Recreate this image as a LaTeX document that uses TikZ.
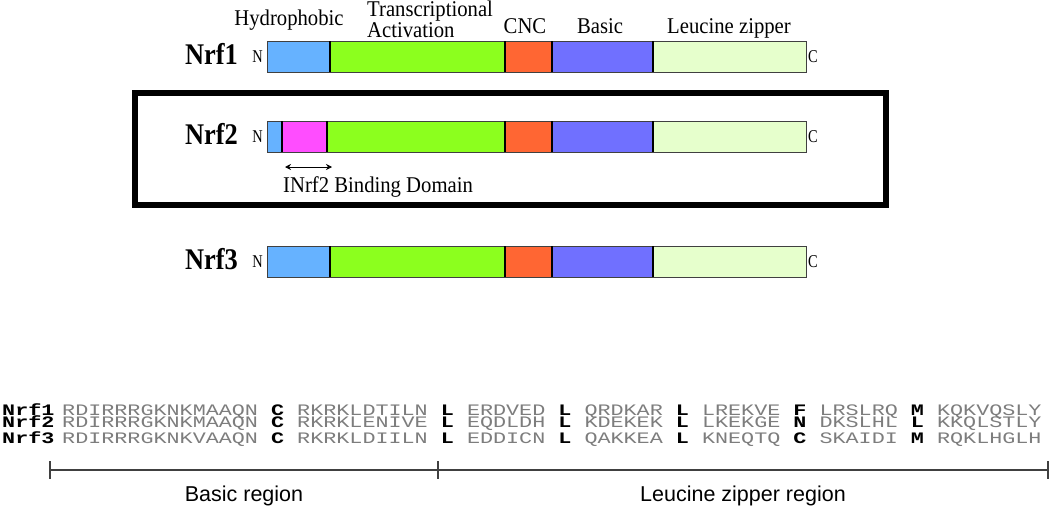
\documentclass[tikz,border=0pt]{standalone}
\usepackage{fontspec}
\setmainfont{Liberation Serif}
\newfontfamily\domfont[FakeStretch=0.92]{Liberation Serif}
\newfontfamily\namefont[FakeStretch=0.88]{Liberation Serif}
\newfontfamily\termfont[FakeStretch=0.8]{Liberation Serif}
\newfontfamily\seqfont[FakeStretch=1.36]{Liberation Mono}
\newfontfamily\regionfont{Liberation Sans}
\usepackage{tikz}
\usetikzlibrary{arrows.meta}
\definecolor{hydrocol}{RGB}{102,178,255}
\definecolor{bindcol}{RGB}{255,77,255}
\definecolor{actcol}{RGB}{140,255,30}
\definecolor{cnccol}{RGB}{255,102,51}
\definecolor{basiccol}{RGB}{112,112,255}
\definecolor{zipcol}{RGB}{230,255,204}
\definecolor{seqgray}{RGB}{125,125,125}
\newcommand\keyres[1]{\textcolor{black}{\bfseries #1}}

\begin{document}
\begin{tikzpicture}[
    x=1pt, y=-1pt,
    >={Stealth[length=6pt,width=6pt]},
    segment/.style={draw=black!75, line width=1pt},
    divider/.style={black, line width=2pt},
    domain label/.style={font=\domfont\fontsize{22.5}{19}\selectfont, inner sep=0pt, align=left},
    protein name/.style={font=\namefont\bfseries\fontsize{30}{30}\selectfont, inner sep=0pt, anchor=base east},
    terminus/.style={font=\termfont\fontsize{18}{18}\selectfont, inner sep=0pt},
    seq name/.style={font=\seqfont\bfseries\fontsize{16}{16}\selectfont, inner sep=0pt, anchor=base west},
    seq row/.style={font=\seqfont\fontsize{16}{16}\selectfont, text=seqgray, inner sep=0pt, anchor=base west},
    region/.style={font=\regionfont\fontsize{21.5}{21.5}\selectfont, inner sep=0pt, anchor=base}
    ]

    \useasboundingbox (0,0) rectangle (1050,514);

    % domain labels above Nrf1
    \node[domain label, anchor=base] (hydro label) at (289,25) {Hydrophobic};
    \node[domain label, anchor=base west] (act label) at (367,37) {Transcriptional\\Activation};
    \node[domain label, anchor=base] (cnc label) at (525,33) {CNC};
    \node[domain label, anchor=base] (basic label) at (600,33) {Basic};
    \node[domain label, anchor=base] (zip label) at (729,33) {Leucine zipper};

    % Nrf1 and Nrf3 share the same layout
    \foreach \name/\top in {Nrf1/41, Nrf3/246} {
        \foreach \from/\to/\col in {267/330/hydrocol, 330/505/actcol, 505/552/cnccol, 552/653/basiccol, 653/806/zipcol}
            \draw[segment, fill=\col] (\from,\top) rectangle (\to,\top+31);
        \foreach \x in {330,505,552,653}
            \draw[divider] (\x,\top) -- (\x,\top+31);
        \node[protein name] (\name) at (238,\top+23) {\name};
        \node[terminus, anchor=east] (\name-N) at (263,\top+15.5) {N};
        \node[terminus, anchor=west] (\name-C) at (808,\top+15.5) {C};
    }

    % Nrf2 with the INrf2 binding domain
    \def\top{121}
    \foreach \from/\to/\col in {267/282/hydrocol, 282/327/bindcol, 327/505/actcol, 505/552/cnccol, 552/653/basiccol, 653/806/zipcol}
        \draw[segment, fill=\col] (\from,\top) rectangle (\to,\top+31);
    \foreach \x in {282,327,505,552,653}
        \draw[divider] (\x,\top) -- (\x,\top+31);
    \node[protein name] (Nrf2) at (238,\top+23) {Nrf2};
    \node[terminus, anchor=east] (Nrf2-N) at (263,\top+15.5) {N};
    \node[terminus, anchor=west] (Nrf2-C) at (808,\top+15.5) {C};

    \coordinate (bind west) at (285,167);
    \coordinate (bind east) at (332,167);
    \draw[<->, thick] (bind west) -- (bind east);
    \node[domain label, anchor=base west] (bind label) at (283,192) {INrf2 Binding Domain};

    \draw[line width=6pt] (135,93) rectangle (886,205);

    % sequence alignment
    \node[seq name] (seq1) at (2,415) {Nrf1};
    \node[seq name] (seq2) at (2,427) {Nrf2};
    \node[seq name] (seq3) at (2,443) {Nrf3};
    \node[seq row] (row1) at (62,415) {RDIRRRGKNKMAAQN \keyres{C} RKRKLDTILN \keyres{L} ERDVED \keyres{L} QRDKAR \keyres{L} LREKVE \keyres{F} LRSLRQ \keyres{M} KQKVQSLY};
    \node[seq row] (row2) at (62,427) {RDIRRRGKNKMAAQN \keyres{C} RKRKLENIVE \keyres{L} EQDLDH \keyres{L} KDEKEK \keyres{L} LKEKGE \keyres{N} DKSLHL \keyres{L} KKQLSTLY};
    \node[seq row] (row3) at (62,443) {RDIRRRGKNKVAAQN \keyres{C} RKRKLDIILN \keyres{L} EDDICN \keyres{L} QAKKEA \keyres{L} KNEQTQ \keyres{C} SKAIDI \keyres{M} RQKLHGLH};

    % region scale
    \coordinate (basic start) at (50,470);
    \coordinate (zip start) at (438,470);
    \coordinate (zip end) at (1048,470);
    \draw[black!75, line width=1.3pt] (basic start) -- (zip end);
    \foreach \c in {basic start, zip start, zip end}
        \draw[black!75, line width=1.3pt] (\c) ++(0,-9) -- ++(0,18);
    \node[region] (basic region) at (244,501) {Basic region};
    \node[region] (zip region) at (743,501) {Leucine zipper region};

\end{tikzpicture}
\end{document}
